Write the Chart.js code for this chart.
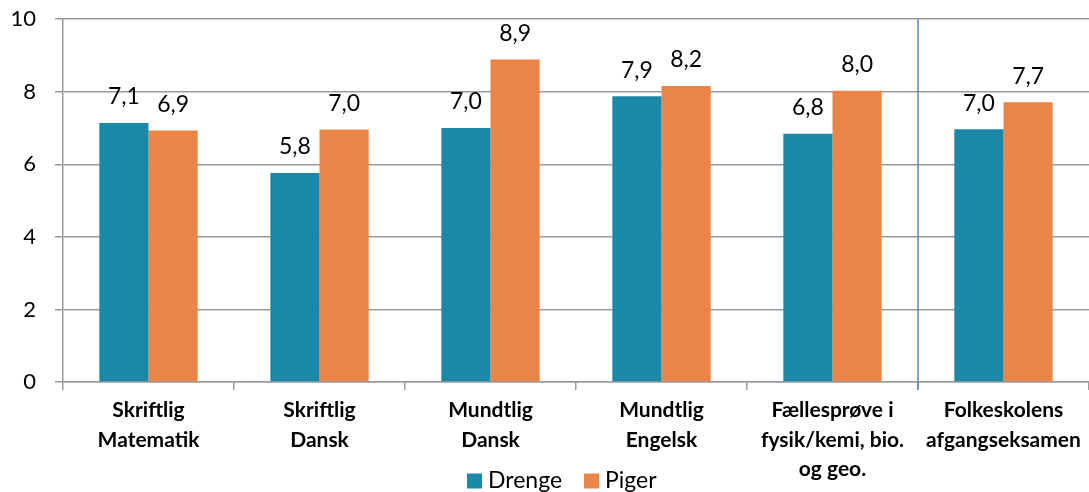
<!DOCTYPE html>
<html>
<head>
<meta charset="utf-8">
<script src="https://cdn.jsdelivr.net/npm/chart.js@4"></script>
<style>
  html, body { margin: 0; padding: 0; background: #fff; }
  #wrap { width: 1089px; height: 492px; }
</style>
</head>
<body>
<div id="wrap"><canvas id="chart" width="1089" height="492"></canvas></div>
<script>
// Data
const categories = [
    ['Skriftlig', 'Matematik'],
    ['Skriftlig', 'Dansk'],
    ['Mundtlig', 'Dansk'],
    ['Mundtlig', 'Engelsk'],
    ['Fællesprøve i', 'fysik/kemi, bio.', 'og geo.'],
    ['Folkeskolens', 'afgangseksamen']
];
const drenge = [7.14, 5.76, 7.00, 7.88, 6.84, 6.97];
const piger = [6.93, 6.96, 8.89, 8.16, 8.03, 7.71];
const seriesNames = ['Drenge', 'Piger'];
const yTicks = [0, 2, 4, 6, 8, 10];

const TEAL = '#1b88a8';
const ORANGE = '#ea8447';
const FONT = 'Lato, "Liberation Sans", sans-serif';

// value labels above each bar
const barLabels = {
    id: 'barLabels',
    afterDatasetsDraw(chart) {
        const ctx = chart.ctx;
        ctx.save();
        ctx.font = '23px ' + FONT;
        ctx.fillStyle = '#000';
        ctx.textAlign = 'center';
        ctx.textBaseline = 'middle';
        chart.data.datasets.forEach((ds, di) => {
            chart.getDatasetMeta(di).data.forEach((bar, i) => {
                const txt = ds.data[i].toFixed(1).replace('.', ',');
                ctx.fillText(txt, bar.x, bar.y - 26);
            });
        });
        ctx.restore();
    }
};

// blue divider before the last category
const divider = {
    id: 'divider',
    afterDatasetsDraw(chart) {
        const x = chart.scales.x;
        const n = chart.data.labels.length;
        const px = (x.getPixelForValue(n - 2) + x.getPixelForValue(n - 1)) / 2;
        const ctx = chart.ctx;
        ctx.save();
        ctx.strokeStyle = '#5a87c5';
        ctx.lineWidth = 1.5;
        ctx.beginPath();
        ctx.moveTo(px, chart.chartArea.top);
        ctx.lineTo(px, chart.chartArea.bottom + 8);
        ctx.stroke();
        ctx.restore();
    }
};

// legend drawn below, overlapping the axis label area like the original
const bottomLegend = {
    id: 'bottomLegend',
    afterDraw(chart) {
        const ctx = chart.ctx;
        ctx.save();
        ctx.font = '23px ' + FONT;
        ctx.textBaseline = 'middle';
        ctx.fillStyle = '#000';
        let x = 467;
        const y = 481;
        chart.data.datasets.forEach((ds) => {
            ctx.fillStyle = ds.backgroundColor;
            ctx.fillRect(x, y - 7.5, 15, 15);
            ctx.fillStyle = '#000';
            ctx.fillText(ds.label, x + 21, y);
            x += 21 + ctx.measureText(ds.label).width + 22;
        });
        ctx.restore();
    }
};

new Chart(document.getElementById('chart').getContext('2d'), {
    type: 'bar',
    data: {
        labels: categories,
        datasets: [
            { label: seriesNames[0], data: drenge, backgroundColor: TEAL },
            { label: seriesNames[1], data: piger, backgroundColor: ORANGE }
        ]
    },
    options: {
        responsive: false,
        animation: false,
        layout: { padding: { top: 0, right: 0, left: 0, bottom: 0 } },
        datasets: {
            bar: { categoryPercentage: 0.575, barPercentage: 1.0 }
        },
        plugins: {
            legend: { display: false },
            tooltip: { enabled: false }
        },
        scales: {
            x: {
                offset: true,
                grid: {
                    offset: true,
                    drawOnChartArea: false,
                    color: '#9a9a9a',
                    lineWidth: 1.5,
                    tickLength: 8
                },
                border: { color: '#9a9a9a', width: 1.5 },
                ticks: {
                    color: '#000',
                    font: { family: FONT, size: 21, weight: 'bold', lineHeight: 1.4 },
                    padding: 6,
                    maxRotation: 0,
                    autoSkip: false
                },
                afterFit(scale) { scale.height = 110; }
            },
            y: {
                min: 0,
                max: 10,
                afterBuildTicks(scale) {
                    scale.ticks = yTicks.map(v => ({ value: v }));
                },
                grid: {
                    color: '#9a9a9a',
                    lineWidth: 1.5,
                    tickLength: 8
                },
                border: { color: '#9a9a9a', width: 1.5 },
                ticks: {
                    color: '#000',
                    // tiny line height keeps the top of the plot close to the canvas edge
                    font: { family: FONT, size: 22, lineHeight: 0.02 },
                    padding: 19
                },
                afterFit(scale) { scale.width = 63; }
            }
        }
    },
    plugins: [barLabels, divider, bottomLegend]
});
</script>
</body>
</html>
